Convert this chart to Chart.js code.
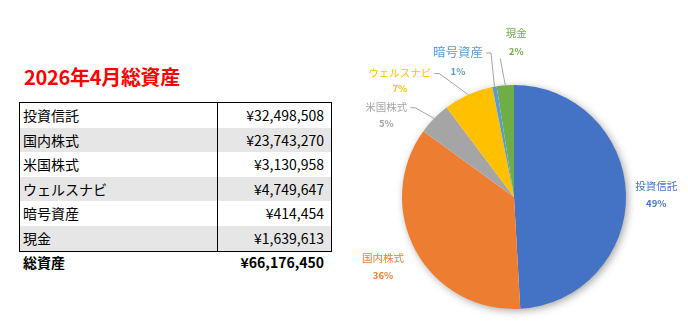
<!DOCTYPE html>
<html lang="ja">
<head>
<meta charset="utf-8">
<script src="https://cdn.jsdelivr.net/npm/chart.js@4/dist/chart.umd.min.js"></script>
<style>
  html, body { margin: 0; padding: 0; background: #fff; }
  body { width: 688px; height: 322px; position: relative; overflow: hidden;
         font-family: "Noto Sans CJK JP", "Noto Sans", sans-serif; color: #000; }
  #title { position: absolute; left: 24px; top: 64px; font-size: 20px; font-weight: bold;
           color: #ff0000; line-height: 26px; letter-spacing: -0.3px; }
  #assetTable { position: absolute; left: 19px; top: 102px; width: 311px;
                border: 1px solid #000; box-sizing: content-box; }
  .row { display: flex; height: 24.6px; font-size: 14px; line-height: 24.6px; }
  .row.shade { background: #e7e6e6; }
  .name { width: 198px; padding-left: 3px; border-right: 1px solid #000; box-sizing: border-box;
          white-space: nowrap; }
  .amount { flex: 1; text-align: right; padding-right: 7px; white-space: nowrap; }
  #totalRow { position: absolute; left: 19px; top: 251px; width: 312px; display: flex;
              font-size: 14px; font-weight: bold; line-height: 22px; }
  #totalRow .name { border-right: none; padding-left: 4px; width: 199px; }
  #pieBox { position: absolute; left: 340px; top: 0; width: 348px; height: 322px; }
</style>
</head>
<body>
<div id="title">2026年4月総資産</div>
<div id="assetTable"></div>
<div id="totalRow"><div class="name">総資産</div><div class="amount" id="totalAmount"></div></div>
<div id="pieBox"><canvas id="assetPie"></canvas></div>

<script>
const categories = ['投資信託', '国内株式', '米国株式', 'ウェルスナビ', '暗号資産', '現金'];
const amounts = [32498508, 23743270, 3130958, 4749647, 414454, 1639613];
const sliceColors = ['#4472c4', '#ed7d31', '#a5a5a5', '#ffc000', '#5b9bd5', '#70ad47'];

// label placement around the pie, in units of the pie radius from its centre
const labelLayout = [
    { dx: 1.27, dy: -0.02, size: 10.5, gap: 17, leader: null },
    { dx: -1.17, dy: 0.62, size: 10.5, gap: 17, leader: null },
    { dx: -1.14, dy: -0.73, size: 10.5, gap: 17, leader: 'side' },
    { dx: -1.02, dy: -1.04, size: 10.5, gap: 16, leader: 'side' },
    { dx: -0.50, dy: -1.21, size: 12.5, gap: 19, leader: 'side' },
    { dx: 0.02, dy: -1.38, size: 10.5, gap: 18, leader: 'below' }
];

const yen = n => '¥' + n.toLocaleString('en-US');
const total = amounts.reduce((a, b) => a + b, 0);

// table
const table = document.getElementById('assetTable');
categories.forEach(function(name, i) {
    const row = document.createElement('div');
    row.className = 'row' + (i % 2 === 1 ? ' shade' : '');
    row.innerHTML = '<div class="name">' + name + '</div><div class="amount">' + yen(amounts[i]) + '</div>';
    table.appendChild(row);
});
document.getElementById('totalAmount').textContent = yen(total);

const pieExtras = {
    id: 'pieExtras',
    beforeDatasetsDraw(chart) {
        const ctx = chart.ctx;
        const arc = chart.getDatasetMeta(0).data[0];
        const p = arc.getProps(['x', 'y', 'outerRadius'], true);
        ctx.save();
        ctx.shadowColor = 'rgba(0,0,0,0.38)';
        ctx.shadowBlur = 8;
        ctx.shadowOffsetX = 2;
        ctx.shadowOffsetY = 2;
        ctx.fillStyle = '#fff';
        ctx.beginPath();
        ctx.arc(p.x, p.y, p.outerRadius - 0.5, 0, Math.PI * 2);
        ctx.fill();
        ctx.restore();
    },
    afterDatasetsDraw(chart) {
        const ctx = chart.ctx;
        const meta = chart.getDatasetMeta(0);
        meta.data.forEach(function(arc, i) {
            const p = arc.getProps(['x', 'y', 'startAngle', 'endAngle', 'outerRadius'], true);
            const L = labelLayout[i];
            const r = p.outerRadius;
            const lx = p.x + L.dx * r;
            const ly = p.y + L.dy * r;
            const nameY = ly - L.gap / 2;
            const pctY = ly + L.gap / 2;
            const pct = Math.round(amounts[i] / total * 100) + '%';

            ctx.save();
            ctx.textAlign = 'center';
            ctx.textBaseline = 'middle';
            ctx.fillStyle = sliceColors[i];
            ctx.font = L.size + 'px "Noto Sans CJK JP"';
            const w = ctx.measureText(categories[i]).width;
            ctx.fillText(categories[i], lx, nameY);
            ctx.font = '600 9.5px "Noto Sans CJK JP"';
            ctx.fillText(pct, lx, pctY);

            if (L.leader) {
                const mid = (p.startAngle + p.endAngle) / 2;
                const ex = p.x + Math.cos(mid) * r;
                const ey = p.y + Math.sin(mid) * r;
                ctx.strokeStyle = '#a6a6a6';
                ctx.lineWidth = 1;
                ctx.beginPath();
                if (L.leader === 'side') {
                    const ax = lx + w / 2 + 3;
                    ctx.moveTo(ax, nameY + 1);
                    ctx.lineTo(ax + 5, nameY + 1);
                } else {
                    ctx.moveTo(lx - 16, ly + 16);
                }
                ctx.lineTo(ex, ey);
                ctx.stroke();
            }
            ctx.restore();
        });
    }
};

new Chart(document.getElementById('assetPie').getContext('2d'), {
    type: 'pie',
    data: {
        labels: categories,
        datasets: [{
            data: amounts,
            backgroundColor: sliceColors,
            borderWidth: 0
        }]
    },
    options: {
        responsive: true,
        maintainAspectRatio: false,
        animation: false,
        layout: { padding: { left: 62, right: 62, top: 85, bottom: 13 } },
        plugins: {
            legend: { display: false },
            tooltip: { enabled: false }
        }
    },
    plugins: [pieExtras]
});
</script>
</body>
</html>
